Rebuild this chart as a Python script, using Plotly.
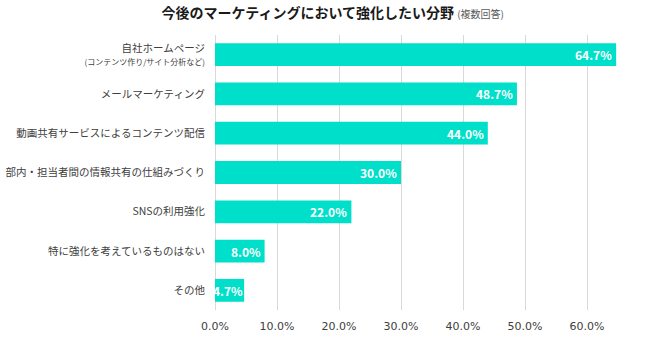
import plotly.graph_objects as go

categories = [
    "自社ホームページ<br><span style='font-size:8px'>(コンテンツ作り/サイト分析など)</span>",
    "メールマーケティング",
    "動画共有サービスによるコンテンツ配信",
    "部内・担当者間の情報共有の仕組みづくり",
    "SNSの利用強化",
    "特に強化を考えているものはない",
    "その他",
]
values = [0.647, 0.487, 0.440, 0.300, 0.220, 0.080, 0.047]
tick_vals = [0, 0.1, 0.2, 0.3, 0.4, 0.5, 0.6]
tick_text = ["0.0%", "10.0%", "20.0%", "30.0%", "40.0%", "50.0%", "60.0%"]

FONT = "Noto Sans CJK JP"

fig = go.Figure(go.Bar(
    x=values,
    y=categories,
    orientation="h",
    marker=dict(color="#00DFC9", line=dict(width=0)),
    width=0.58,
    hoverinfo="skip",
))

for cat, v in zip(categories, values):
    fig.add_annotation(
        x=v, y=cat, xref="x", yref="y",
        text=f"<b>{v*100:.1f}%</b>",
        showarrow=False, xanchor="right", yanchor="middle",
        xshift=-2 if v > 0.06 else 1,
        font=dict(family=FONT, size=12, color="white"),
    )

fig.update_layout(
    width=650, height=339,
    margin=dict(l=215, r=1, t=35, b=29),
    paper_bgcolor="white", plot_bgcolor="white",
    showlegend=False,
    font=dict(family=FONT, color="#404040"),
    title=dict(
        text="<b>今後のマーケティングにおいて強化したい分野</b> <span style='font-size:10px;color:#595959'>(複数回答)</span>",
        x=0.512, xanchor="center", y=0.962, yanchor="middle",
        font=dict(family=FONT, size=14, color="#1a1a1a"),
    ),
    xaxis=dict(
        range=[0, 0.7],
        tickvals=tick_vals, ticktext=tick_text,
        showgrid=True, gridcolor="#D9D9D9", gridwidth=1,
        zeroline=True, zerolinecolor="#D9D9D9", zerolinewidth=1,
        tickfont=dict(family="DejaVu Sans", size=11, color="#404040"),
        ticks="", ticklabelstandoff=8, fixedrange=True,
    ),
    yaxis=dict(
        categoryorder="array", categoryarray=categories[::-1],
        autorange=True,
        tickfont=dict(family=FONT, size=10.5, color="#404040"),
        ticks="", ticklen=0, showline=False, ticklabelstandoff=9,
    ),
)

fig.write_html("out.html")
